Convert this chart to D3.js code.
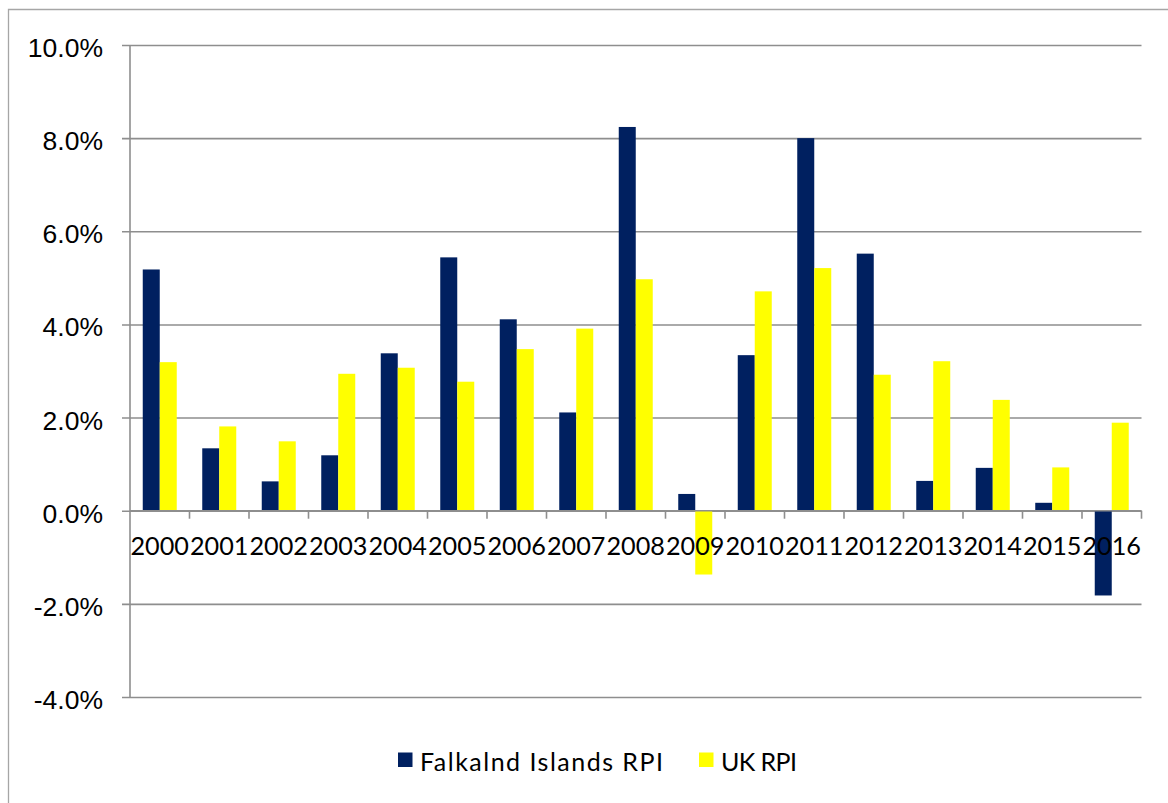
<!DOCTYPE html>
<html>
<head>
<meta charset="utf-8">
<script src="https://cdn.jsdelivr.net/npm/d3@7"></script>
<style>
  html, body { margin: 0; padding: 0; background: #fff; }
  svg { display: block; }
</style>
</head>
<body>
<svg id="chart" width="1168" height="803"></svg>
<script>
// Annual RPI inflation, Falkland Islands vs UK (percent)
const years = ["2000","2001","2002","2003","2004","2005","2006","2007","2008",
               "2009","2010","2011","2012","2013","2014","2015","2016"];
const falklandRPI = [5.18, 1.34, 0.63, 1.19, 3.38, 5.44, 4.11, 2.11, 8.24,
                     0.36, 3.34, 8.00, 5.52, 0.64, 0.92, 0.17, -1.82];
const ukRPI = [3.19, 1.81, 1.49, 2.94, 3.07, 2.77, 3.47, 3.91, 4.97,
               -1.37, 4.71, 5.21, 2.92, 3.21, 2.38, 0.93, 1.89];
const yTicks = [-4, -2, 0, 2, 4, 6, 8, 10];
const seriesNames = ["Falkalnd Islands RPI", "UK RPI"];
const seriesColors = ["#002060", "#FFFF00"];

const svg = d3.select("#chart");
const plot = { left: 130, right: 1141.5, top: 45, bottom: 697 };
const gridColor = "#8e8e8e";

// chart-area frame (left and top edges)
svg.append("path")
  .attr("d", "M8.5,803 V9.5 H1168")
  .attr("fill", "none")
  .attr("stroke", "#a6a6a6")
  .attr("stroke-width", 1.3);

const x = d3.scaleBand().domain(years).range([plot.left, plot.right]).paddingInner(0).paddingOuter(0);
const y = d3.scaleLinear().domain([-4, 10]).range([plot.bottom, plot.top]);

// bar geometry: gap width 150% of a single bar
const barW = x.bandwidth() / 3.5;
const groupOffset = (x.bandwidth() - 2 * barW) / 2;

// horizontal gridlines with y tick marks
const yAxis = d3.axisLeft(y)
  .tickValues(yTicks)
  .tickSize(plot.right - plot.left + 8)
  .tickFormat(d => d.toFixed(1) + "%");

const gy = svg.append("g")
  .attr("transform", `translate(${plot.right},0)`)
  .call(yAxis);
gy.select(".domain").remove();
gy.selectAll(".tick line")
  .attr("stroke", gridColor)
  .attr("stroke-width", 1.6);
gy.selectAll(".tick text")
  .attr("x", -(plot.right - 103))
  .attr("dy", null)
  .attr("y", 11.5)
  .attr("text-anchor", "end")
  .attr("fill", "#000")
  .style("font-family", "'Liberation Sans', Arial, sans-serif")
  .style("font-size", "26.5px");

// vertical axis line
svg.append("line")
  .attr("x1", plot.left).attr("x2", plot.left)
  .attr("y1", plot.top).attr("y2", plot.bottom)
  .attr("stroke", gridColor).attr("stroke-width", 1.6);

// bars
const series = [falklandRPI, ukRPI];
series.forEach((vals, si) => {
  svg.append("g")
    .selectAll("rect")
    .data(vals)
    .join("rect")
    .attr("x", (d, i) => x(years[i]) + groupOffset + si * barW)
    .attr("width", barW)
    .attr("y", d => Math.min(y(d), y(0)))
    .attr("height", d => Math.abs(y(d) - y(0)))
    .attr("fill", seriesColors[si]);
});

// category axis at zero with tick marks between categories
const zeroY = y(0);
svg.append("line")
  .attr("x1", plot.left).attr("x2", plot.right)
  .attr("y1", zeroY).attr("y2", zeroY)
  .attr("stroke", gridColor).attr("stroke-width", 1.6);

const boundaries = years.map(d => x(d) + x.bandwidth());
svg.append("g")
  .selectAll("line")
  .data(boundaries)
  .join("line")
  .attr("x1", d => d).attr("x2", d => d)
  .attr("y1", zeroY).attr("y2", zeroY + 8)
  .attr("stroke", gridColor).attr("stroke-width", 1.6);

svg.append("g")
  .selectAll("text")
  .data(years)
  .join("text")
  .attr("x", d => x(d) + x.bandwidth() / 2)
  .attr("y", zeroY + 44)
  .attr("text-anchor", "middle")
  .attr("fill", "#000")
  .attr("textLength", x.bandwidth() - 1)
  .attr("lengthAdjust", "spacingAndGlyphs")
  .style("font-family", "Lato, 'Open Sans', sans-serif")
  .style("font-size", "25.5px")
  .text(d => d);

// legend
const legendItems = [
  { name: seriesNames[0], color: seriesColors[0], x: 398, w: 243 },
  { name: seriesNames[1], color: seriesColors[1], x: 699, w: 76 }
];
const lg = svg.append("g");
legendItems.forEach(it => {
  lg.append("rect")
    .attr("x", it.x).attr("y", 752.5)
    .attr("width", 14.5).attr("height", 14.5)
    .attr("fill", it.color);
  lg.append("text")
    .attr("x", it.x + 22).attr("y", 770.5)
    .attr("fill", "#000")
    .attr("textLength", it.w)
    .attr("lengthAdjust", "spacing")
    .style("font-family", "Lato, 'Open Sans', sans-serif")
    .style("font-size", "25px")
    .text(it.name);
});
</script>
</body>
</html>
